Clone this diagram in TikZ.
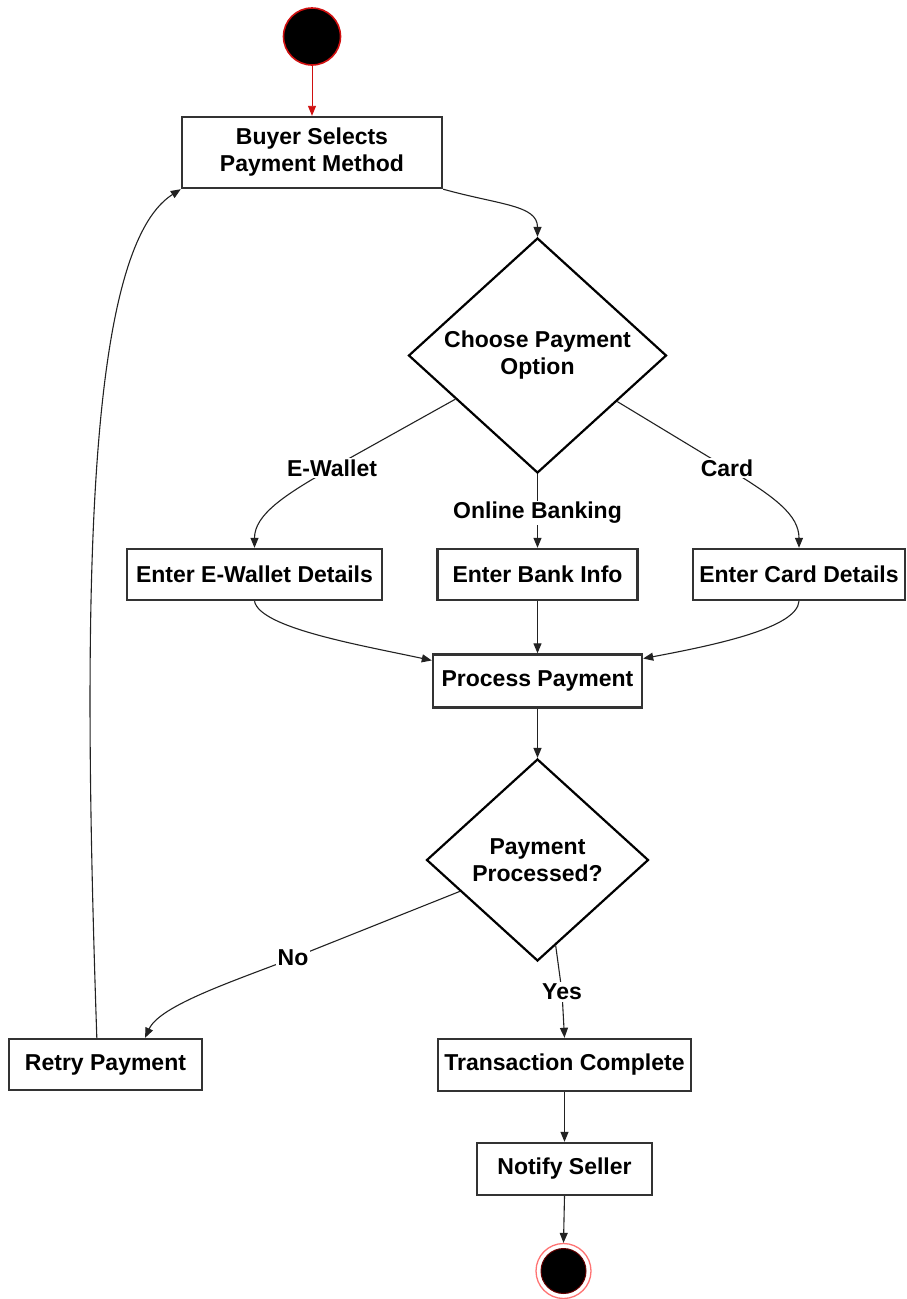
\documentclass[tikz,border=0pt]{standalone}
\usepackage{fontspec}
\setmainfont{Liberation Sans}
\usetikzlibrary{arrows.meta,shapes.geometric}
\definecolor{boxline}{HTML}{333333}
\definecolor{edgeline}{HTML}{222222}
\definecolor{startred}{HTML}{D01010}
\tikzset{
  txt/.style={font=\fontsize{23}{27}\selectfont\bfseries, text=black},
  stepbox/.style={txt, draw=boxline, line width=2.4pt, rectangle, inner sep=0pt, align=center, fill=white},
  decision/.style={txt, draw=black, line width=2.2pt, diamond, inner sep=0pt, align=center, fill=white},
  conn/.style={draw=edgeline, line width=1.1pt, -{Triangle[length=10pt,width=8pt]}},
  lbl/.style={txt, fill=white, inner sep=1.5pt},
  initial/.style={txt, circle, fill=black, draw=startred, line width=1.6pt, minimum size=57pt, inner sep=0pt},
}
\begin{document}
\begin{tikzpicture}[x=1pt,y=-1pt]
\useasboundingbox[fill=white] (0,0) rectangle (906,1299);

% start / end markers
\node[initial] (start) at (312,36.5) {Start};
\node[circle, draw=red!55, line width=1.3pt, minimum size=55pt, inner sep=0pt] (end) at (563.5,1271) {};
\node[circle, fill=black, draw=red!40!black, line width=1pt, minimum size=45pt, inner sep=0pt] (endcore) at (end.center) {};

% activity boxes
\node[stepbox, minimum width=260pt, minimum height=71pt] (buyer) at (312,152.5) {Buyer Selects\\Payment Method};
\node[stepbox, minimum width=255pt, minimum height=51pt] (ewallet) at (254.5,574.5) {Enter E-Wallet Details};
\node[stepbox, minimum width=200pt, minimum height=51pt] (bank) at (537.5,574.5) {Enter Bank Info};
\node[stepbox, minimum width=212pt, minimum height=51pt] (card) at (799,574.5) {Enter Card Details};
\node[stepbox, minimum width=209pt, minimum height=53pt] (process) at (537.5,681) {Process Payment};
\node[stepbox, minimum width=193pt, minimum height=51pt] (retry) at (105.5,1064.5) {Retry Payment};
\node[stepbox, minimum width=253pt, minimum height=52pt] (trans) at (564.5,1065) {Transaction Complete};
\node[stepbox, minimum width=175pt, minimum height=52pt] (notify) at (564.5,1169) {Notify Seller};

% decisions
\node[decision, minimum width=258pt, minimum height=231pt] (d1) at (537.5,355.5) {Choose Payment\\Option};
\node[decision, minimum width=222pt, minimum height=202pt] (d2) at (537.5,860) {Payment\\Processed?};

% label positions on the branches
\coordinate (cE) at (332,468);
\coordinate (cB) at (537.5,513);
\coordinate (cC) at (727,468);
\coordinate (cN) at (293,958);
\coordinate (cY) at (562,992);

% connectors
\draw[conn, draw=startred, line width=0.9pt, -{Triangle[length=10pt,width=8pt,fill=startred]}] (start) -- (buyer);
\draw[conn] (buyer.south east) .. controls (500,205) and (537.5,205) .. (d1.north);
\draw[conn] (d1.208) -- (cE) .. controls (284,495) and (254.5,515) .. (ewallet.north);
\draw[conn] (d1.south) -- (cB) -- (bank.north);
\draw[conn] (d1.330) -- (cC) .. controls (775,497) and (799,515) .. (card.north);
\draw[conn] (ewallet.south) .. controls (260,628) and (360,645) .. (process.169);
\draw[conn] (bank.south) -- (process.north);
\draw[conn] (card.south) .. controls (797,628) and (715,645) .. (process.12);
\draw[conn] (process.south) -- (d2.north);
\draw[conn] (d2.202) -- (cN) .. controls (237,980) and (160,1005) .. (retry.34);
\draw[conn] (d2.282) -- (cY) -- (trans.north);
\draw[conn] (retry.108) .. controls (82,600) and (85,250) .. (buyer.south west);
\draw[conn] (trans.south) -- (notify.north);
\draw[conn] (notify.south) -- (end.north);

% branch labels
\node[lbl] (lE) at (cE) {E-Wallet};
\node[lbl] (lB) at (cB) {Online Banking};
\node[lbl] (lC) at (cC) {Card};
\node[lbl] (lN) at (cN) {No};
\node[lbl] (lY) at (cY) {Yes};
\end{tikzpicture}
\end{document}
